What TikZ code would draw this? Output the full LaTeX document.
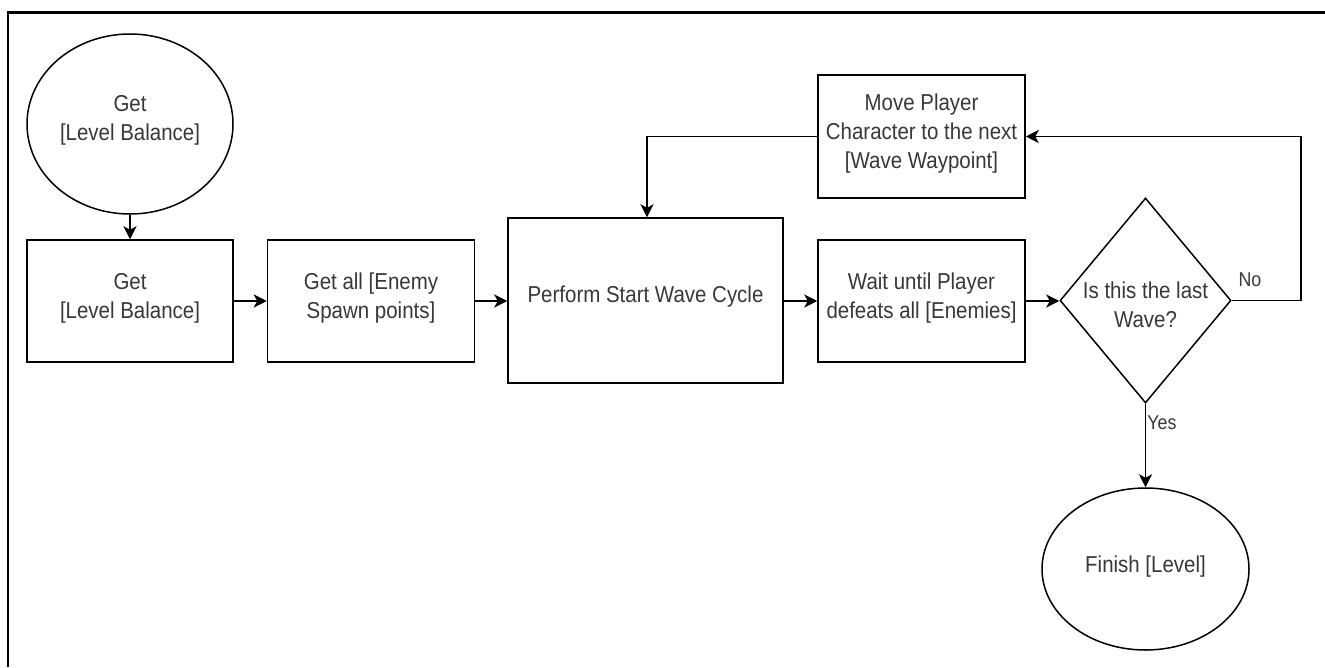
\documentclass[tikz,border=0pt]{standalone}
\usepackage{fontspec}
\setmainfont{Liberation Sans}[FakeStretch=0.89]
\usetikzlibrary{shapes.geometric,arrows.meta}
\begin{document}
\begin{tikzpicture}[x=1pt,y=-1pt,
  every node/.style={font=\fontsize{23}{29}\selectfont, text=black!78, align=center},
  box/.style={draw=black, line width=1.5pt, rectangle, inner sep=0pt},
  ell/.style={draw=black, line width=1.5pt, ellipse, inner sep=0pt},
  dia/.style={draw=black, line width=1.5pt, diamond, inner sep=0pt},
  lbl/.style={font=\fontsize{20}{24}\selectfont, inner sep=0pt},
  txt/.style={inner sep=0pt},
  arr/.style={draw=black, line width=1.5pt, -{Stealth[length=13pt,width=13pt,inset=3.5pt]}}
]
\useasboundingbox (0,0) rectangle (1325,667);
\fill[white] (0,0) rectangle (1325,667);
% frame
\draw[line width=2.6pt] (8,667) -- (8,12.5) -- (1325,12.5);

\node[ell, minimum width=206pt, minimum height=180pt] (start) at (130,124) {};
\node[txt] (startt) at (130,120) {Get\\{}[Level Balance]};
\node[box, minimum width=206pt, minimum height=122pt] (b1) at (130,301) {};
\node[txt] (b1t) at (130,298) {Get\\{}[Level Balance]};
\node[box, minimum width=207pt, minimum height=122pt] (b2) at (371,301) {};
\node[txt] (b2t) at (371,298) {Get all [Enemy\\Spawn points]};
\node[box, minimum width=275pt, minimum height=165pt] (b3) at (645.5,300.5) {};
\node[txt] (b3t) at (645.5,297) {Perform Start Wave Cycle};
\node[box, minimum width=207pt, minimum height=122pt] (b4) at (921.5,301) {};
\node[txt] (b4t) at (921.5,298) {Wait until Player\\defeats all [Enemies]};
\node[dia, minimum width=171pt, minimum height=205pt] (d) at (1145.5,300.5) {};
\node[txt] (dt) at (1145.5,305) {Is this the last\\Wave?};
\node[box, minimum width=207pt, minimum height=123pt] (b5) at (921.5,136.5) {};
\node[txt] (b5t) at (921.5,133.5) {Move Player\\Character to the next\\{}[Wave Waypoint]};
\node[ell, minimum width=207pt, minimum height=162pt] (fin) at (1145.5,569) {};
\node[txt] (fint) at (1145.5,567) {Finish [Level]};

\node[lbl] (no) at (1250,280) {No};
\node[lbl] (yes) at (1162,423) {Yes};

\draw[arr] (start) -- (b1);
\draw[arr] (b1.east) -- (b2.west);
\draw[arr] (b2.east) -- (b3.west |- b2.east);
\draw[arr] (b3.east |- b4.west) -- (b4.west);
\draw[arr] (b4.east) -- (d.west |- b4.east);
\draw[arr] (d.east) -- ++(69,0) |- (b5.east);
\draw[arr] (b5.west) -| ([xshift=1.5pt]b3.north);
\draw[arr] (d.south) -- (fin.north);
\end{tikzpicture}
\end{document}
